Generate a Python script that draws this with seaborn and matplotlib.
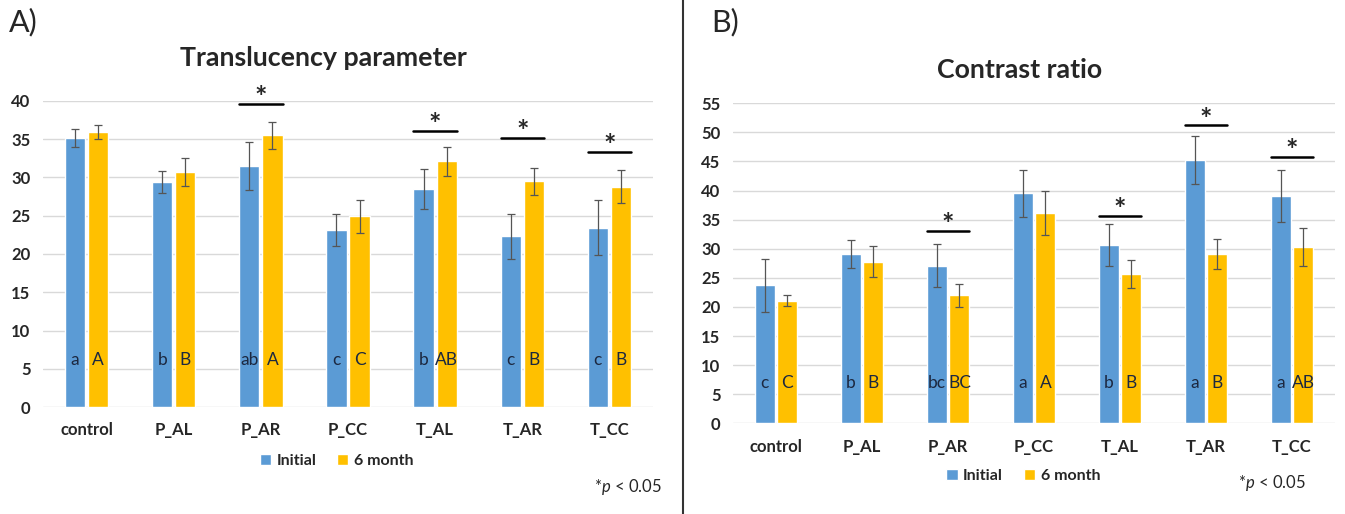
import pandas as pd
import seaborn as sns
import matplotlib.pyplot as plt
from matplotlib.lines import Line2D

# data
groups = ['control', 'P_AL', 'P_AR', 'P_CC', 'T_AL', 'T_AR', 'T_CC']
times = ['Initial', '6 month']

tp_initial = [35.1, 29.4, 31.5, 23.1, 28.5, 22.3, 23.4]
tp_initial_sd = [1.2, 1.4, 3.1, 2.1, 2.6, 2.9, 3.6]
tp_6m = [35.9, 30.7, 35.5, 24.9, 32.1, 29.5, 28.8]
tp_6m_sd = [0.9, 1.8, 1.75, 2.2, 1.9, 1.75, 2.2]
tp_letters_initial = ['a', 'b', 'ab', 'c', 'b', 'c', 'c']
tp_letters_6m = ['A', 'B', 'A', 'C', 'AB', 'B', 'B']
tp_sig = {'P_AR': 39.6, 'T_AL': 36.1, 'T_AR': 35.2, 'T_CC': 33.3}

cr_initial = [23.7, 29.05, 27.05, 39.5, 30.6, 45.2, 39.1]
cr_initial_sd = [4.5, 2.4, 3.7, 4.0, 3.6, 4.15, 4.5]
cr_6m = [21.1, 27.8, 22.0, 36.2, 25.7, 29.1, 30.3]
cr_6m_sd = [0.9, 2.6, 2.0, 3.8, 2.4, 2.6, 3.2]
cr_letters_initial = ['c', 'b', 'bc', 'a', 'b', 'a', 'a']
cr_letters_6m = ['C', 'B', 'BC', 'A', 'B', 'B', 'AB']
cr_sig = {'P_AR': 33.0, 'T_AL': 35.7, 'T_AR': 51.2, 'T_CC': 45.8}

sns.set_style('white')
plt.rcParams['font.family'] = ['Lato', 'DejaVu Sans']
plt.rcParams['mathtext.fontset'] = 'custom'
plt.rcParams['mathtext.it'] = 'Lato:italic'
plt.rcParams['mathtext.rm'] = 'Lato'

palette = {'Initial': '#5B9BD5', '6 month': '#FFC000'}
grid_col = '#D9D9D9'
letter_col = '#1c2840'


def make_df(ini, six):
    return pd.DataFrame({
        'group': groups * 2,
        'time': ['Initial'] * len(groups) + ['6 month'] * len(groups),
        'value': ini + six,
    })


def draw_panel(ax, ini, ini_sd, six, six_sd, let_i, let_6, sig, ymax, letter_y, leg_pos):
    df = make_df(ini, six)
    sns.barplot(data=df, x='group', y='value', hue='time', palette=palette,
                width=0.53, gap=0.12, errorbar=None, saturation=1, ax=ax)
    ax.set_ylim(0, ymax)
    ax.set_xlim(-0.5, len(groups) - 0.5)
    ax.set_yticks(range(0, ymax + 1, 5))
    ax.yaxis.grid(True, color=grid_col, lw=1)
    ax.set_axisbelow(True)
    sns.despine(ax=ax, left=True, bottom=True)
    ax.tick_params(axis='both', length=0, labelsize=12)
    ax.tick_params(axis='x', pad=11)
    ax.tick_params(axis='y', pad=9)
    for lab in ax.get_xticklabels() + ax.get_yticklabels():
        lab.set_fontweight('bold')
    ax.set_xlabel('')
    ax.set_ylabel('')

    # error bars and letters
    for cont, vals, sds, lets in [(ax.containers[0], ini, ini_sd, let_i),
                                  (ax.containers[1], six, six_sd, let_6)]:
        xs = [b.get_x() + b.get_width() / 2 for b in cont]
        ax.errorbar(xs, vals, yerr=sds, fmt='none', ecolor='#555555',
                    elinewidth=0.9, capsize=3, capthick=0.9)
        for x, t in zip(xs, lets):
            ax.text(x, letter_y, t, ha='center', va='center', fontsize=12.5, color=letter_col)

    # significance bars
    for g, h in sig.items():
        i = groups.index(g)
        b0 = ax.containers[0][i]
        b1 = ax.containers[1][i]
        x0 = b0.get_x()
        x1 = b1.get_x() + b1.get_width()
        ax.plot([x0, x1], [h, h], color='black', lw=1.8, clip_on=False)
        ax.annotate('*', xy=((x0 + x1) / 2, h), xytext=(0, -1.5), textcoords='offset points',
                    ha='center', va='baseline', fontsize=21, fontweight='bold', annotation_clip=False)

    sns.move_legend(ax, 'center', bbox_to_anchor=leg_pos, ncol=2, frameon=False, title=None,
                    handlelength=0.7, handleheight=0.7, handletextpad=0.35, columnspacing=1.3,
                    prop={'weight': 'bold', 'size': 11.5})


fig = plt.figure(figsize=(13.45, 5.14), dpi=100)
axA = fig.add_axes([0.032, 0.208, 0.4535, 0.596])
axB = fig.add_axes([0.545, 0.1765, 0.4476, 0.6225])

draw_panel(axA, tp_initial, tp_initial_sd, tp_6m, tp_6m_sd, tp_letters_initial, tp_letters_6m,
           tp_sig, 40, 6.2, (0.481, -0.176))
draw_panel(axB, cr_initial, cr_initial_sd, cr_6m, cr_6m_sd, cr_letters_initial, cr_letters_6m,
           cr_sig, 55, 6.9, (0.482, -0.165))

fig.text(323.5 / 1345, 1 - 58 / 514, 'Translucency parameter', fontsize=19.3, fontweight='bold',
         ha='center', va='center')
fig.text(1020 / 1345, 1 - 70 / 514, 'Contrast ratio', fontsize=19.3, fontweight='bold',
         ha='center', va='center')
fig.text(9 / 1345, 1 - 22 / 514, 'A)', fontsize=22, va='center', ha='left')
fig.text(711 / 1345, 1 - 22 / 514, 'B)', fontsize=22, va='center', ha='left')
fig.text(662 / 1345, 1 - 487 / 514, '*$p$ < 0.05', fontsize=12, va='center', ha='right')
fig.text(1306 / 1345, 1 - 483 / 514, '*$p$ < 0.05', fontsize=12, va='center', ha='right')
fig.add_artist(Line2D([683 / 1345, 683 / 1345], [0, 1], color='#333333', lw=1.5))

fig.savefig('out.png', dpi=100)
